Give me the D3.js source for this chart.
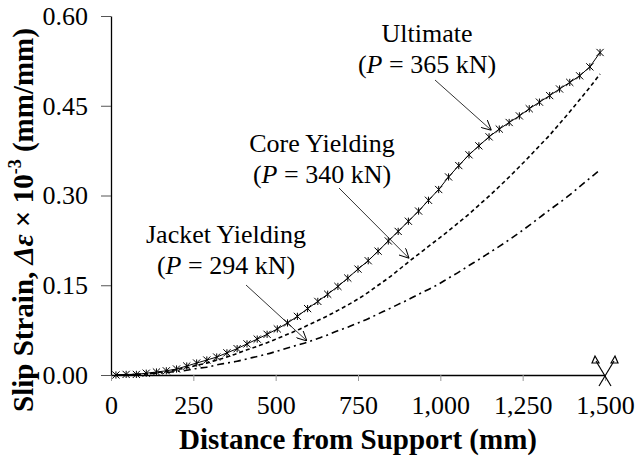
<!DOCTYPE html>
<html>
<head>
<meta charset="utf-8">
<script src="https://cdn.jsdelivr.net/npm/d3@7"></script>
<style>
  body { margin: 0; background: #fff; }
  svg { font-family: "Liberation Serif", "Times New Roman", serif; }
</style>
</head>
<body>
<div id="chart"></div>
<script>
// distance from support (mm) of each gauge reading
const distance = [15, 46, 77, 107, 138, 168, 199, 230, 260, 291, 321, 352, 383, 413, 444, 474, 505,
    536, 566, 597, 628, 658, 689, 719, 750, 781, 811, 842, 872, 903, 934, 964, 995, 1025, 1056,
    1087, 1117, 1148, 1179, 1209, 1240, 1270, 1301, 1332, 1362, 1393, 1423, 1454, 1485];

const ultimate = [0.000, 0.001, 0.001, 0.003, 0.005, 0.007, 0.010, 0.015, 0.020, 0.025, 0.030, 0.037,
    0.044, 0.052, 0.060, 0.068, 0.077, 0.087, 0.098, 0.111, 0.123, 0.135, 0.148, 0.162, 0.177,
    0.191, 0.207, 0.224, 0.240, 0.257, 0.274, 0.292, 0.310, 0.331, 0.350, 0.368, 0.383, 0.398,
    0.411, 0.422, 0.433, 0.445, 0.456, 0.467, 0.478, 0.489, 0.500, 0.515, 0.539];

const coreYielding = [0.000, 0.000, 0.001, 0.002, 0.004, 0.006, 0.009, 0.012, 0.016, 0.020, 0.025,
    0.030, 0.036, 0.042, 0.048, 0.054, 0.061, 0.068, 0.075, 0.083, 0.091, 0.099, 0.108, 0.117,
    0.127, 0.138, 0.150, 0.162, 0.175, 0.189, 0.202, 0.215, 0.228, 0.241, 0.255, 0.269, 0.284,
    0.299, 0.315, 0.331, 0.348, 0.365, 0.383, 0.401, 0.420, 0.440, 0.460, 0.481, 0.503];

const jacketYielding = [0.000, 0.000, 0.001, 0.002, 0.003, 0.004, 0.006, 0.008, 0.011, 0.013, 0.017,
    0.020, 0.023, 0.027, 0.031, 0.035, 0.040, 0.045, 0.050, 0.055, 0.061, 0.067, 0.074, 0.080,
    0.087, 0.094, 0.102, 0.110, 0.118, 0.126, 0.135, 0.143, 0.152, 0.162, 0.172, 0.183, 0.193,
    0.204, 0.215, 0.226, 0.238, 0.250, 0.263, 0.276, 0.288, 0.301, 0.315, 0.329, 0.343];

const xTicks = [0, 250, 500, 750, 1000, 1250, 1500];
const yTicks = [0, 0.15, 0.30, 0.45, 0.60];

const stageNames = ["Ultimate", "Core Yielding", "Jacket Yielding"];
const stageLoads = [365, 340, 294];
// point on the curve each note points at: [distance, strain]
const stageTargets = [[1155, 0.409], [905, 0.195], [595, 0.057]];

const width = 637, height = 461;
const margin = { top: 16, right: 32, bottom: 86, left: 111 };

const svg = d3.select("#chart").append("svg")
    .attr("width", width)
    .attr("height", height);

const x = d3.scaleLinear().domain([0, 1500]).range([margin.left, width - margin.right]);
const y = d3.scaleLinear().domain([0, 0.6]).range([height - margin.bottom, margin.top]);

// axes
const xAxis = svg.append("g")
    .attr("transform", `translate(0,${y(0)})`)
    .call(d3.axisBottom(x).tickValues(xTicks).tickSize(6).tickPadding(15).tickSizeOuter(0)
        .tickFormat(d3.format(",")));
xAxis.select(".domain").attr("stroke", "#000").attr("stroke-width", 1.3);
xAxis.selectAll(".tick line").attr("stroke", "#999");
xAxis.selectAll("text").attr("font-size", 26).attr("fill", "#000")
    .style("font-family", "Liberation Serif");

const yAxis = svg.append("g")
    .attr("transform", `translate(${x(0)},0)`)
    .call(d3.axisLeft(y).tickValues(yTicks).tickSize(10).tickPadding(13).tickSizeOuter(0)
        .tickFormat(d3.format(".2f")));
yAxis.select(".domain").attr("stroke", "#000").attr("stroke-width", 1.3);
yAxis.selectAll(".tick line").attr("stroke", "#555");
yAxis.selectAll("text").attr("font-size", 26).attr("fill", "#000")
    .style("font-family", "Liberation Serif");

// axis titles
svg.append("text")
    .attr("x", (x(0) + x(1500)) / 2)
    .attr("y", 449)
    .attr("text-anchor", "middle")
    .attr("font-size", 29)
    .attr("font-weight", "bold")
    .text("Distance from Support (mm)");

const yTitle = svg.append("text")
    .attr("transform", `translate(33,220) rotate(-90)`)
    .attr("text-anchor", "middle")
    .attr("font-size", 29)
    .attr("font-weight", "bold");
yTitle.append("tspan").text("Slip Strain, ");
yTitle.append("tspan").attr("font-style", "italic").text("Δε");
yTitle.append("tspan").text(" × 10");
yTitle.append("tspan").attr("font-size", 18).attr("dy", -12).text("-3");
yTitle.append("tspan").attr("dy", 12).text(" (mm/mm)");

// curves
const line = d3.line()
    .x((d, i) => x(distance[i]))
    .y(d => y(d));

svg.append("path")
    .datum(jacketYielding)
    .attr("fill", "none")
    .attr("stroke", "#000")
    .attr("stroke-width", 1.6)
    .attr("stroke-dasharray", "7,4,2,4")
    .attr("d", line.curve(d3.curveMonotoneX));

svg.append("path")
    .datum(coreYielding)
    .attr("fill", "none")
    .attr("stroke", "#000")
    .attr("stroke-width", 1.6)
    .attr("stroke-dasharray", "4,3")
    .attr("d", line.curve(d3.curveMonotoneX));

svg.append("path")
    .datum(ultimate)
    .attr("fill", "none")
    .attr("stroke", "#000")
    .attr("stroke-width", 1)
    .attr("d", line.curve(d3.curveLinear));

function star(r) {
    const p = d3.path();
    p.moveTo(-r, -r); p.lineTo(r, r);
    p.moveTo(-r, r); p.lineTo(r, -r);
    p.moveTo(0, -r); p.lineTo(0, r);
    return p.toString();
}

svg.append("g")
    .selectAll("path")
    .data(ultimate)
    .enter().append("path")
    .attr("transform", (d, i) => `translate(${x(distance[i])},${y(d)})`)
    .attr("d", star(3.6))
    .attr("stroke", "#000")
    .attr("stroke-width", 1);

// notes with arrows
const defs = svg.append("defs");
defs.append("marker")
    .attr("id", "arrow")
    .attr("viewBox", "0 0 10 10")
    .attr("refX", 10).attr("refY", 5)
    .attr("markerWidth", 10).attr("markerHeight", 10)
    .attr("markerUnits", "userSpaceOnUse")
    .attr("orient", "auto")
    .append("path")
    .attr("d", "M0,0L10,5L0,10")
    .attr("fill", "none")
    .attr("stroke", "#000")
    .attr("stroke-width", 1);

const notePos = [[427, 42], [322, 152], [226, 243]];
const arrowStart = [[435, 80], [339, 188], [246, 285]];

stageNames.forEach((name, i) => {
    const t = svg.append("text")
        .attr("text-anchor", "middle")
        .attr("font-size", 26);
    t.append("tspan").attr("x", notePos[i][0]).attr("y", notePos[i][1]).text(name);
    const t2 = t.append("tspan").attr("x", notePos[i][0]).attr("y", notePos[i][1] + 31);
    t2.append("tspan").text("(");
    t2.append("tspan").attr("font-style", "italic").text("P");
    t2.append("tspan").text(` = ${stageLoads[i]} kN)`);

    svg.append("line")
        .attr("x1", arrowStart[i][0]).attr("y1", arrowStart[i][1])
        .attr("x2", x(stageTargets[i][0])).attr("y2", y(stageTargets[i][1]))
        .attr("stroke", "#000")
        .attr("stroke-width", 0.8)
        .attr("marker-end", "url(#arrow)");
});

// mid-span symbol at the end of the axis
const sx = x(1500), sy = y(0);
const sym = svg.append("g").attr("fill", "none").attr("stroke", "#000").attr("stroke-width", 1.2);
sym.append("path").attr("d", `M${sx - 6},${sy + 11}L${sx + 9},${sy - 14}`);
sym.append("path").attr("d", `M${sx + 6},${sy + 11}L${sx - 9},${sy - 14}`);
sym.append("path").attr("d", `M${sx - 13},${sy - 12}L${sx - 10},${sy - 19}L${sx - 6},${sy - 12}Z`);
sym.append("path").attr("d", `M${sx + 6},${sy - 12}L${sx + 10},${sy - 19}L${sx + 13},${sy - 12}Z`);
</script>
</body>
</html>
